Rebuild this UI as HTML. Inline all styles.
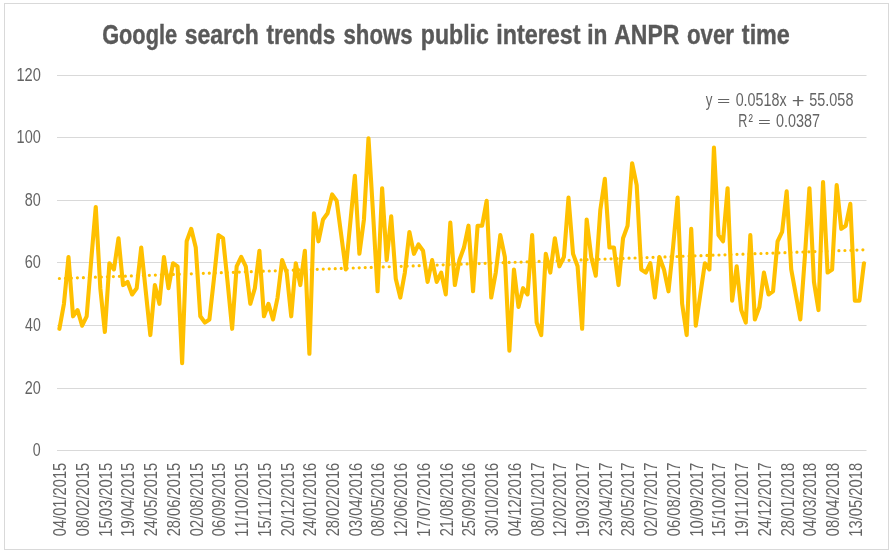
<!DOCTYPE html>
<html><head><meta charset="utf-8"><style>
html,body{margin:0;padding:0;background:#fff;}
body{width:892px;height:553px;overflow:hidden;}
svg{display:block;}
text{font-family:"Liberation Sans",Arial,sans-serif;font-kerning:none;}
</style></head><body>
<svg width="892" height="553" viewBox="0 0 892 553">
<rect x="0" y="0" width="892" height="553" fill="#fff"/>
<rect x="4.5" y="3.5" width="884" height="546" fill="#fff" stroke="#d9d9d9" stroke-width="1"/>
<text stroke="#595959" stroke-width="0.4" x="102.16" y="43.60" font-size="26.8" font-weight="bold" fill="#595959" textLength="74.94" lengthAdjust="spacingAndGlyphs">Google</text>
<text stroke="#595959" stroke-width="0.4" x="184.74" y="43.60" font-size="26.8" font-weight="bold" fill="#595959" textLength="74.03" lengthAdjust="spacingAndGlyphs">search</text>
<text stroke="#595959" stroke-width="0.4" x="266.58" y="43.60" font-size="26.8" font-weight="bold" fill="#595959" textLength="68.70" lengthAdjust="spacingAndGlyphs">trends</text>
<text stroke="#595959" stroke-width="0.4" x="343.47" y="43.60" font-size="26.8" font-weight="bold" fill="#595959" textLength="69.09" lengthAdjust="spacingAndGlyphs">shows</text>
<text stroke="#595959" stroke-width="0.4" x="420.83" y="43.60" font-size="26.8" font-weight="bold" fill="#595959" textLength="68.00" lengthAdjust="spacingAndGlyphs">public</text>
<text stroke="#595959" stroke-width="0.4" x="496.32" y="43.60" font-size="26.8" font-weight="bold" fill="#595959" textLength="84.11" lengthAdjust="spacingAndGlyphs">interest</text>
<text stroke="#595959" stroke-width="0.4" x="587.16" y="43.60" font-size="26.8" font-weight="bold" fill="#595959" textLength="20.20" lengthAdjust="spacingAndGlyphs">in</text>
<text stroke="#595959" stroke-width="0.4" x="614.28" y="43.60" font-size="26.8" font-weight="bold" fill="#595959" textLength="65.04" lengthAdjust="spacingAndGlyphs">ANPR</text>
<text stroke="#595959" stroke-width="0.4" x="686.88" y="43.60" font-size="26.8" font-weight="bold" fill="#595959" textLength="47.11" lengthAdjust="spacingAndGlyphs">over</text>
<text stroke="#595959" stroke-width="0.4" x="741.87" y="43.60" font-size="26.8" font-weight="bold" fill="#595959" textLength="47.98" lengthAdjust="spacingAndGlyphs">time</text>
<g stroke="#d9d9d9" stroke-width="1"><line x1="57" y1="75.5" x2="866.5" y2="75.5"/><line x1="57" y1="137.5" x2="866.5" y2="137.5"/><line x1="57" y1="200.5" x2="866.5" y2="200.5"/><line x1="57" y1="262.5" x2="866.5" y2="262.5"/><line x1="57" y1="325.5" x2="866.5" y2="325.5"/><line x1="57" y1="388.5" x2="866.5" y2="388.5"/><line x1="57" y1="450.5" x2="866.5" y2="450.5"/></g>
<text x="16.39" y="81.30" font-size="17.5" fill="#646464" textLength="24.38" lengthAdjust="spacingAndGlyphs">120</text>
<text x="16.60" y="143.30" font-size="17.5" fill="#646464" textLength="24.17" lengthAdjust="spacingAndGlyphs">100</text>
<text x="24.78" y="206.30" font-size="17.5" fill="#646464" textLength="15.99" lengthAdjust="spacingAndGlyphs">80</text>
<text x="24.66" y="268.30" font-size="17.5" fill="#646464" textLength="16.10" lengthAdjust="spacingAndGlyphs">60</text>
<text x="25.08" y="331.30" font-size="17.5" fill="#646464" textLength="15.67" lengthAdjust="spacingAndGlyphs">40</text>
<text x="24.67" y="394.30" font-size="17.5" fill="#646464" textLength="16.09" lengthAdjust="spacingAndGlyphs">20</text>
<text x="32.84" y="456.30" font-size="17.5" fill="#646464" textLength="7.91" lengthAdjust="spacingAndGlyphs">0</text>
<text transform="translate(66.30,536.17) rotate(-90)" font-size="17.5" fill="#646464" textLength="73.39" lengthAdjust="spacingAndGlyphs">04/01/2015</text>
<text transform="translate(89.03,536.17) rotate(-90)" font-size="17.5" fill="#646464" textLength="73.39" lengthAdjust="spacingAndGlyphs">08/02/2015</text>
<text transform="translate(111.75,536.73) rotate(-90)" font-size="17.5" fill="#646464" textLength="73.95" lengthAdjust="spacingAndGlyphs">15/03/2015</text>
<text transform="translate(134.48,536.73) rotate(-90)" font-size="17.5" fill="#646464" textLength="73.95" lengthAdjust="spacingAndGlyphs">19/04/2015</text>
<text transform="translate(157.21,536.34) rotate(-90)" font-size="17.5" fill="#646464" textLength="73.56" lengthAdjust="spacingAndGlyphs">24/05/2015</text>
<text transform="translate(179.94,536.34) rotate(-90)" font-size="17.5" fill="#646464" textLength="73.56" lengthAdjust="spacingAndGlyphs">28/06/2015</text>
<text transform="translate(202.66,536.17) rotate(-90)" font-size="17.5" fill="#646464" textLength="73.39" lengthAdjust="spacingAndGlyphs">02/08/2015</text>
<text transform="translate(225.39,536.17) rotate(-90)" font-size="17.5" fill="#646464" textLength="73.39" lengthAdjust="spacingAndGlyphs">06/09/2015</text>
<text transform="translate(248.12,536.73) rotate(-90)" font-size="17.5" fill="#646464" textLength="73.95" lengthAdjust="spacingAndGlyphs">11/10/2015</text>
<text transform="translate(270.85,536.73) rotate(-90)" font-size="17.5" fill="#646464" textLength="73.95" lengthAdjust="spacingAndGlyphs">15/11/2015</text>
<text transform="translate(293.57,536.34) rotate(-90)" font-size="17.5" fill="#646464" textLength="73.56" lengthAdjust="spacingAndGlyphs">20/12/2015</text>
<text transform="translate(316.30,536.34) rotate(-90)" font-size="17.5" fill="#646464" textLength="73.59" lengthAdjust="spacingAndGlyphs">24/01/2016</text>
<text transform="translate(339.03,536.34) rotate(-90)" font-size="17.5" fill="#646464" textLength="73.59" lengthAdjust="spacingAndGlyphs">28/02/2016</text>
<text transform="translate(361.76,536.17) rotate(-90)" font-size="17.5" fill="#646464" textLength="73.42" lengthAdjust="spacingAndGlyphs">03/04/2016</text>
<text transform="translate(384.48,536.17) rotate(-90)" font-size="17.5" fill="#646464" textLength="73.42" lengthAdjust="spacingAndGlyphs">08/05/2016</text>
<text transform="translate(407.21,536.73) rotate(-90)" font-size="17.5" fill="#646464" textLength="73.98" lengthAdjust="spacingAndGlyphs">12/06/2016</text>
<text transform="translate(429.94,536.73) rotate(-90)" font-size="17.5" fill="#646464" textLength="73.98" lengthAdjust="spacingAndGlyphs">17/07/2016</text>
<text transform="translate(452.67,536.34) rotate(-90)" font-size="17.5" fill="#646464" textLength="73.59" lengthAdjust="spacingAndGlyphs">21/08/2016</text>
<text transform="translate(475.39,536.34) rotate(-90)" font-size="17.5" fill="#646464" textLength="73.59" lengthAdjust="spacingAndGlyphs">25/09/2016</text>
<text transform="translate(498.12,536.16) rotate(-90)" font-size="17.5" fill="#646464" textLength="73.40" lengthAdjust="spacingAndGlyphs">30/10/2016</text>
<text transform="translate(520.85,536.17) rotate(-90)" font-size="17.5" fill="#646464" textLength="73.42" lengthAdjust="spacingAndGlyphs">04/12/2016</text>
<text transform="translate(543.58,536.17) rotate(-90)" font-size="17.5" fill="#646464" textLength="73.51" lengthAdjust="spacingAndGlyphs">08/01/2017</text>
<text transform="translate(566.30,536.73) rotate(-90)" font-size="17.5" fill="#646464" textLength="74.07" lengthAdjust="spacingAndGlyphs">12/02/2017</text>
<text transform="translate(589.03,536.73) rotate(-90)" font-size="17.5" fill="#646464" textLength="74.07" lengthAdjust="spacingAndGlyphs">19/03/2017</text>
<text transform="translate(611.76,536.34) rotate(-90)" font-size="17.5" fill="#646464" textLength="73.68" lengthAdjust="spacingAndGlyphs">23/04/2017</text>
<text transform="translate(634.49,536.34) rotate(-90)" font-size="17.5" fill="#646464" textLength="73.68" lengthAdjust="spacingAndGlyphs">28/05/2017</text>
<text transform="translate(657.21,536.17) rotate(-90)" font-size="17.5" fill="#646464" textLength="73.51" lengthAdjust="spacingAndGlyphs">02/07/2017</text>
<text transform="translate(679.94,536.17) rotate(-90)" font-size="17.5" fill="#646464" textLength="73.51" lengthAdjust="spacingAndGlyphs">06/08/2017</text>
<text transform="translate(702.67,536.73) rotate(-90)" font-size="17.5" fill="#646464" textLength="74.07" lengthAdjust="spacingAndGlyphs">10/09/2017</text>
<text transform="translate(725.40,536.73) rotate(-90)" font-size="17.5" fill="#646464" textLength="74.07" lengthAdjust="spacingAndGlyphs">15/10/2017</text>
<text transform="translate(748.12,536.73) rotate(-90)" font-size="17.5" fill="#646464" textLength="74.07" lengthAdjust="spacingAndGlyphs">19/11/2017</text>
<text transform="translate(770.85,536.34) rotate(-90)" font-size="17.5" fill="#646464" textLength="73.68" lengthAdjust="spacingAndGlyphs">24/12/2017</text>
<text transform="translate(793.58,536.34) rotate(-90)" font-size="17.5" fill="#646464" textLength="73.58" lengthAdjust="spacingAndGlyphs">28/01/2018</text>
<text transform="translate(816.31,536.17) rotate(-90)" font-size="17.5" fill="#646464" textLength="73.41" lengthAdjust="spacingAndGlyphs">04/03/2018</text>
<text transform="translate(839.03,536.17) rotate(-90)" font-size="17.5" fill="#646464" textLength="73.41" lengthAdjust="spacingAndGlyphs">08/04/2018</text>
<text transform="translate(861.76,536.73) rotate(-90)" font-size="17.5" fill="#646464" textLength="73.97" lengthAdjust="spacingAndGlyphs">13/05/2018</text>
<polyline points="59.40,328.82 63.95,303.82 68.49,256.95 73.04,316.32 77.58,310.07 82.13,325.70 86.67,316.32 91.22,260.07 95.76,206.95 100.31,288.20 104.85,331.95 109.40,263.20 113.95,269.45 118.49,238.20 123.04,285.07 127.58,281.95 132.13,294.45 136.67,288.20 141.22,247.57 145.76,291.32 150.31,335.07 154.86,285.07 159.40,303.82 163.95,256.95 168.49,288.20 173.04,263.20 177.58,266.32 182.13,363.20 186.67,241.32 191.22,228.82 195.76,247.57 200.31,316.32 204.86,322.57 209.40,319.45 213.95,278.82 218.49,235.07 223.04,238.20 227.58,281.95 232.13,328.82 236.67,266.32 241.22,256.95 245.77,266.32 250.31,303.82 254.86,288.20 259.40,250.70 263.95,316.32 268.49,303.82 273.04,319.45 277.58,297.57 282.13,260.07 286.67,272.57 291.22,316.32 295.77,263.20 300.31,285.07 304.86,250.70 309.40,353.82 313.95,213.20 318.49,241.32 323.04,219.45 327.58,213.20 332.13,194.45 336.68,200.70 341.22,235.07 345.77,269.45 350.31,222.57 354.86,175.70 359.40,253.82 363.95,219.45 368.49,138.20 373.04,213.20 377.58,291.32 382.13,188.20 386.68,260.07 391.22,216.32 395.77,278.82 400.31,297.57 404.86,272.57 409.40,231.95 413.95,253.82 418.49,244.45 423.04,250.70 427.59,281.95 432.13,260.07 436.68,281.95 441.22,272.57 445.77,294.45 450.31,222.57 454.86,285.07 459.40,260.07 463.95,247.57 468.49,225.70 473.04,291.32 477.59,225.70 482.13,225.70 486.68,200.70 491.22,297.57 495.77,272.57 500.31,235.07 504.86,256.95 509.40,350.70 513.95,269.45 518.50,306.95 523.04,288.20 527.59,294.45 532.13,235.07 536.68,322.57 541.22,335.07 545.77,253.82 550.31,272.57 554.86,238.20 559.40,266.32 563.95,256.95 568.50,197.57 573.04,253.82 577.59,266.32 582.13,328.82 586.68,219.45 591.22,256.95 595.77,275.70 600.31,210.07 604.86,178.82 609.41,247.57 613.95,247.57 618.50,285.07 623.04,238.20 627.59,225.70 632.13,163.20 636.68,185.07 641.22,269.45 645.77,272.57 650.31,263.20 654.86,297.57 659.41,256.95 663.95,269.45 668.50,291.32 673.04,247.57 677.59,197.57 682.13,303.82 686.68,335.07 691.22,228.82 695.77,325.70 700.32,294.45 704.86,263.20 709.41,269.45 713.95,147.57 718.50,235.07 723.04,241.32 727.59,188.20 732.13,300.70 736.68,266.32 741.22,310.07 745.77,322.57 750.32,235.07 754.86,319.45 759.41,306.95 763.95,272.57 768.50,294.45 773.04,291.32 777.59,241.32 782.13,231.95 786.68,191.32 791.23,269.45 795.77,294.45 800.32,319.45 804.86,256.95 809.41,188.20 813.95,281.95 818.50,310.07 823.04,181.95 827.59,272.57 832.13,269.45 836.68,185.07 841.23,228.82 845.77,225.70 850.32,203.82 854.86,300.70 859.41,300.70 863.95,263.20" fill="none" stroke="#ffc000" stroke-width="4.1" stroke-linejoin="round" stroke-linecap="round"/>
<line x1="59.40" y1="278.48" x2="863.95" y2="249.83" stroke="#ffc000" stroke-width="3.2" stroke-linecap="round" stroke-dasharray="0 6"/>
<text x="705.67" y="105.70" font-size="17.5" fill="#646464" textLength="6.66" lengthAdjust="spacingAndGlyphs">y</text>
<text transform="matrix(1,0,0,0.65,0,36.04)" x="717.08" y="105.70" font-size="17.5" fill="#646464" textLength="13.34" lengthAdjust="spacingAndGlyphs">=</text>
<text x="735.64" y="105.70" font-size="17.5" fill="#646464" textLength="50.91" lengthAdjust="spacingAndGlyphs">0.0518x</text>
<text transform="matrix(1,0,0,1.2,0,-19.11)" x="791.83" y="105.70" font-size="17.5" fill="#646464" textLength="12.74" lengthAdjust="spacingAndGlyphs">+</text>
<text x="809.32" y="105.70" font-size="17.5" fill="#646464" textLength="44.10" lengthAdjust="spacingAndGlyphs">55.058</text>
<text x="738.26" y="126.50" font-size="17.5" fill="#646464" textLength="9.12" lengthAdjust="spacingAndGlyphs">R</text>
<text x="748.43" y="126.50" font-size="17.5" fill="#646464" textLength="4.42" lengthAdjust="spacingAndGlyphs">²</text>
<text transform="matrix(1,0,0,0.65,0,43.37)" x="757.92" y="126.50" font-size="17.5" fill="#646464" textLength="12.86" lengthAdjust="spacingAndGlyphs">=</text>
<text x="775.94" y="126.50" font-size="17.5" fill="#646464" textLength="43.99" lengthAdjust="spacingAndGlyphs">0.0387</text>
</svg>
</body></html>
